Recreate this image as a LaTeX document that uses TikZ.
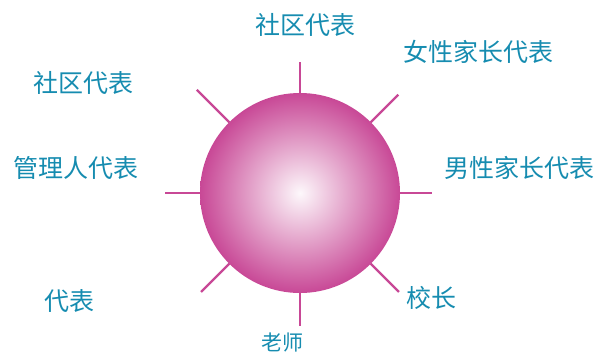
\documentclass[tikz,border=0pt]{standalone}
\usepackage{fontspec}
\usepackage{tikz}
\usepackage{xcolor}
\usetikzlibrary{
    calc,
    positioning
}
\newfontfamily\cjk{Noto Sans CJK SC}
\definecolor{ballpink}{RGB}{200,72,150}
\definecolor{labelblue}{RGB}{22,140,176}
\pgfdeclareradialshading{pinkball}{\pgfpoint{0bp}{0bp}}{
    color(0bp)=(white!96!ballpink);
    color(25bp)=(ballpink);
    color(50bp)=(ballpink)
}
\tikzset{
    spoke/.style={draw=ballpink, line width=2.4pt},
    role/.style={text=labelblue, inner sep=0pt, font=\cjk\fontsize{25}{25}\selectfont}
}

\begin{document}
\begin{tikzpicture}[x=1pt, y=1pt]
                        \useasboundingbox (0, 0) rectangle (597, 357);
                        \node[circle, minimum size=200pt, inner sep=0pt, outer sep=0pt, shading=pinkball] (ball) at (300, 164) {};
                        \foreach \a/\len in {90/31, 45/39, 0/32, -45/40, -90/33, -135/40, 180/35, 135/46}
                            \draw[spoke] (ball.\a) -- ++(\a:\len);
                        \node[role] (top) at (305, 332) {社区代表};
                        \node[role] (mother) at (478, 305) {女性家长代表};
                        \node[role] (father) at (519, 189) {男性家长代表};
                        \node[role] (head) at (431, 59) {校长};
                        \node[role, font=\cjk\fontsize{21}{21}\selectfont] (teacher) at (282, 14) {老师};
                        \node[role] (rep) at (69, 56) {代表};
                        \node[role] (manager) at (76, 189) {管理人代表};
                        \node[role] (community) at (83, 274) {社区代表};
                    \end{tikzpicture}
\end{document}
